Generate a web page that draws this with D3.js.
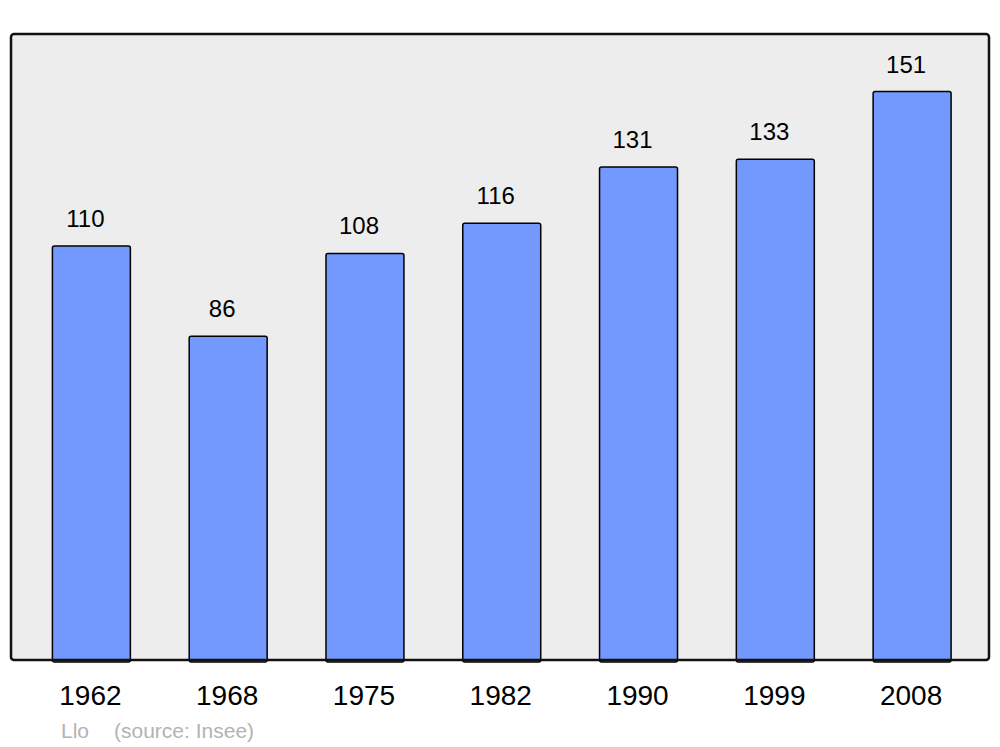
<!DOCTYPE html>
<html>
<head>
<meta charset="utf-8">
<script src="https://cdn.jsdelivr.net/npm/d3@7"></script>
<style>
  body { margin: 0; background: #fff; }
  svg { display: block; font-family: "Liberation Sans", Arial, sans-serif; }
</style>
</head>
<body>
<svg id="chart" width="1000" height="747"></svg>
<script>
// population by census year
var years = ["1962", "1968", "1975", "1982", "1990", "1999", "2008"];
var population = [110, 86, 108, 116, 131, 133, 151];
var placeName = "Llo";
var sourceText = "(source: Insee)";

var svg = d3.select("#chart");

var frame = {left: 11, top: 34, right: 989, bottom: 660};

var x = d3.scaleBand()
    .domain(years)
    .range([23, 980.5])
    .paddingInner(0.43)
    .paddingOuter(0.215);

var y = d3.scaleLinear()
    .domain([0, 166.3])
    .range([frame.bottom, frame.top]);

// plot background
svg.append("rect")
    .attr("x", frame.left)
    .attr("y", frame.top)
    .attr("width", frame.right - frame.left)
    .attr("height", frame.bottom - frame.top)
    .attr("rx", 3)
    .attr("fill", "#ededed")
    .attr("stroke", "none");

// bars
svg.selectAll("rect.bar")
    .data(population)
    .enter()
    .append("rect")
    .attr("class", "bar")
    .attr("x", function(d, i) { return x(years[i]); })
    .attr("y", function(d) { return y(d); })
    .attr("width", x.bandwidth())
    .attr("height", function(d) { return y(0) - y(d) + 2; })
    .attr("rx", 2)
    .attr("fill", "#7399ff")
    .attr("stroke", "#000")
    .attr("stroke-width", 1.5);

// frame on top
svg.append("rect")
    .attr("x", frame.left)
    .attr("y", frame.top)
    .attr("width", frame.right - frame.left)
    .attr("height", frame.bottom - frame.top)
    .attr("rx", 3)
    .attr("fill", "none")
    .attr("stroke", "#111")
    .attr("stroke-width", 2.5);

// value labels
svg.selectAll("text.value")
    .data(population)
    .enter()
    .append("text")
    .attr("class", "value")
    .attr("x", function(d, i) { return x(years[i]) + x.bandwidth() / 2 - 6; })
    .attr("y", function(d) { return y(d) - 19; })
    .attr("text-anchor", "middle")
    .style("font-size", "24px")
    .style("fill", "#000")
    .text(function(d) { return d; });

// year labels
svg.selectAll("text.year")
    .data(years)
    .enter()
    .append("text")
    .attr("class", "year")
    .attr("x", function(d) { return x(d) + x.bandwidth() / 2 - 1; })
    .attr("y", 705)
    .attr("text-anchor", "middle")
    .style("font-size", "28px")
    .style("fill", "#000")
    .text(function(d) { return d; });

// footer
svg.append("text")
    .attr("x", 61)
    .attr("y", 738)
    .style("font-size", "21px")
    .style("fill", "#b3b3b3")
    .text(placeName);

svg.append("text")
    .attr("x", 114)
    .attr("y", 738)
    .style("font-size", "21px")
    .style("fill", "#b3b3b3")
    .text(sourceText);
</script>
</body>
</html>
